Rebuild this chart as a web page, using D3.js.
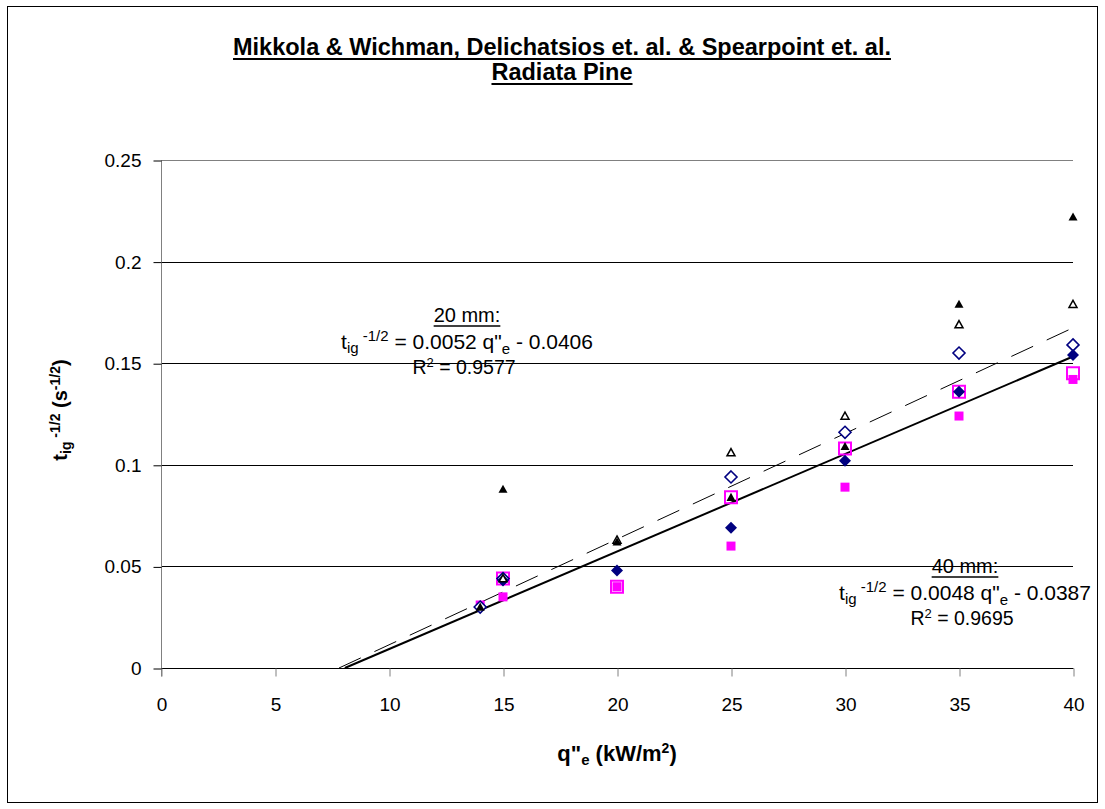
<!DOCTYPE html>
<html><head><meta charset="utf-8">
<script src="https://cdn.jsdelivr.net/npm/d3@7"></script>
<style>
body{margin:0;background:#fff;}
svg{display:block;font-family:"Liberation Sans",Arial,sans-serif;}
</style></head>
<body><svg id="c" width="1105" height="809"></svg>
<script>
// ---- data ----
const xCats = [14, 15, 20, 25, 30, 35, 40];
const filledTriangle = [0.030, 0.088, 0.062, 0.084, 0.109, 0.179, 0.222];
const openTriangle   = [null, 0.044, 0.063, 0.106, 0.124, 0.169, 0.179];
const openDiamond    = [0.030, 0.044, null, 0.094, 0.116, 0.155, 0.159];
const filledDiamond  = [null, 0.043, 0.048, 0.069, 0.102, 0.136, 0.154];
const openSquare     = [null, 0.044, 0.040, 0.084, 0.108, 0.136, 0.145];
const filledSquare   = [0.031, 0.035, 0.040, 0.060, 0.089, 0.124, 0.142];
const xTicks = [0, 5, 10, 15, 20, 25, 30, 35, 40];
const yTicks = [0, 0.05, 0.1, 0.15, 0.2, 0.25];
const yTickLabels = ["0", "0.05", "0.1", "0.15", "0.2", "0.25"];
const fitLabels = ["20 mm:", "40 mm:"];
const fitSlopes = [0.0052, 0.0048];
const fitIntercepts = [-0.0406, -0.0387];
const fitR2 = ["0.9577", "0.9695"];
const titleLines = ["Mikkola & Wichman, Delichatsios et. al. & Spearpoint et. al.", "Radiata Pine"];

// ---- layout ----
const svg = d3.select("#c");
const L = 161, R = 1073, T = 160, B = 668;
const x = d3.scaleLinear().domain([0, 40]).range([L, R]);
const y = d3.scaleLinear().domain([0, 0.25]).range([B, T]);
const FS = 19;

svg.append("rect").attr("x", 7.5).attr("y", 6.5).attr("width", 1090).attr("height", 796)
  .attr("fill", "#fff").attr("stroke", "#000").attr("stroke-width", 1);

// gridlines
svg.append("g").selectAll("line").data(yTicks.slice(1)).join("line")
  .attr("x1", L).attr("x2", R).attr("y1", d => Math.round(y(d)) + 0.5).attr("y2", d => Math.round(y(d)) + 0.5)
  .attr("stroke", (d, i) => i === yTicks.length - 2 ? "#808080" : "#000").attr("stroke-width", 1);

// y axis
const yAxis = d3.axisLeft(y).tickValues(yTicks).tickFormat((d, i) => yTickLabels[i]).tickSize(8).tickPadding(12);
const gy = svg.append("g").attr("transform", `translate(${L + 0.5},0.5)`).call(yAxis);
gy.select(".domain").attr("stroke", "#808080").attr("d", `M0,${T}V${B + 8}`);
gy.selectAll(".tick line").attr("stroke", "#000");
gy.selectAll(".tick text").attr("font-size", FS).attr("font-family", "Liberation Sans, Arial").attr("fill", "#000");

// x axis
const xAxis = d3.axisBottom(x).tickValues(xTicks).tickSize(8).tickPadding(21);
const gx = svg.append("g").attr("transform", `translate(0.5,${B + 0.5})`).call(xAxis);
gx.select(".domain").attr("stroke", "#000").attr("d", `M${L},0H${R}`);
gx.selectAll(".tick line").attr("stroke", "#808080");
gx.selectAll(".tick text").attr("font-size", FS).attr("font-family", "Liberation Sans, Arial").attr("fill", "#000");

// trend lines
const fitStyles = [{dash: "24,15", w: 1}, {dash: null, w: 2}];
fitSlopes.forEach((m, i) => {
  const b = fitIntercepts[i];
  const x0 = -b / m;
  svg.append("line")
    .attr("x1", x(x0)).attr("y1", y(0)).attr("x2", x(40)).attr("y2", y(m * 40 + b))
    .attr("stroke", "#000").attr("stroke-width", fitStyles[i].w)
    .attr("stroke-dasharray", fitStyles[i].dash);
});

// markers
const series = [
  {v: filledSquare, type: "square", size: 9, fill: "#FF00FF", stroke: "none", sw: 0},
  {v: openSquare, type: "square", size: 12, fill: "none", stroke: "#FF00FF", sw: 2},
  {v: openDiamond, type: "diamond", size: 12, fill: "#fff", stroke: "#000080", sw: 1.6},
  {v: filledDiamond, type: "diamond", size: 12, fill: "#000080", stroke: "none", sw: 0},
  {v: openTriangle, type: "triangle", size: 8, fill: "#fff", stroke: "#000", sw: 1.5},
  {v: filledTriangle, type: "triangle", size: 9, fill: "#000", stroke: "none", sw: 0},
];
function shape(type, s) {
  const h = s / 2;
  if (type === "square") return `M${-h},${-h}H${h}V${h}H${-h}Z`;
  if (type === "diamond") return `M0,${-h}L${h},0L0,${h}L${-h},0Z`;
  return `M0,${-h}L${h},${h * 0.8}L${-h},${h * 0.8}Z`;
}
series.forEach(s => {
  const pts = xCats.map((c, i) => ({c, v: s.v[i]})).filter(d => d.v != null);
  svg.append("g").selectAll("path").data(pts).join("path")
    .attr("transform", d => `translate(${x(d.c)},${y(d.v)})`)
    .attr("d", shape(s.type, s.size))
    .attr("fill", s.fill).attr("stroke", s.stroke).attr("stroke-width", s.sw);
});

// helper for underlined text
function underline(t, dy, w) {
  const bb = t.node().getBBox();
  svg.append("line").attr("x1", bb.x).attr("x2", bb.x + bb.width)
    .attr("y1", +t.attr("y") + dy).attr("y2", +t.attr("y") + dy)
    .attr("stroke", "#000").attr("stroke-width", w);
}

// title
const titleY = [55, 80];
titleLines.forEach((tl, i) => {
  const t = svg.append("text").attr("x", 562).attr("y", titleY[i]).attr("text-anchor", "middle")
    .attr("font-size", 23.5).attr("font-weight", "bold").text(tl);
  underline(t, 4, 2);
});

// fit annotations
const annX = [467, 965];
const annY = [322, 573];
fitLabels.forEach((lab, i) => {
  const cx = annX[i], y0 = annY[i];
  const t1 = svg.append("text").attr("x", cx).attr("y", y0).attr("text-anchor", "middle").attr("font-size", 20).text(lab);
  underline(t1, 4, 1.6);
  const t2 = svg.append("text").attr("x", cx).attr("y", y0 + 27).attr("text-anchor", "middle").attr("font-size", 21);
  t2.append("tspan").text("t");
  t2.append("tspan").attr("font-size", 15).attr("dy", 4).text("ig");
  t2.append("tspan").attr("font-size", 15).attr("dy", -12).text(" -1/2");
  t2.append("tspan").attr("dy", 8).text(` = ${fitSlopes[i]} q"`);
  t2.append("tspan").attr("font-size", 15).attr("dy", 5).text("e");
  t2.append("tspan").attr("dy", -5).text(` - ${Math.abs(fitIntercepts[i])}`);
  const t3 = svg.append("text").attr("x", cx - 3).attr("y", y0 + 52).attr("text-anchor", "middle").attr("font-size", 19.5);
  t3.append("tspan").text("R");
  t3.append("tspan").attr("font-size", 13).attr("dy", -7).text("2");
  t3.append("tspan").attr("dy", 7).text(` = ${fitR2[i]}`);
});

// axis titles
const xl = svg.append("text").attr("x", 617).attr("y", 761).attr("text-anchor", "middle")
  .attr("font-size", 22).attr("font-weight", "bold");
xl.append("tspan").text('q"');
xl.append("tspan").attr("font-size", 15).attr("dy", 4).text("e");
xl.append("tspan").attr("dy", -4).text(" (kW/m");
xl.append("tspan").attr("font-size", 14).attr("dy", -8).text("2");
xl.append("tspan").attr("dy", 8).text(")");

const yl = svg.append("text").attr("transform", "translate(67,410) rotate(-90)").attr("text-anchor", "middle")
  .attr("font-size", 20).attr("font-weight", "bold");
yl.append("tspan").text("t");
yl.append("tspan").attr("font-size", 14).attr("dy", 4).text("ig");
yl.append("tspan").attr("font-size", 14).attr("dy", -11).text(" -1/2");
yl.append("tspan").attr("dy", 7).text(" (s");
yl.append("tspan").attr("font-size", 14).attr("dy", -7).text("-1/2");
yl.append("tspan").attr("dy", 7).text(")");
</script></body></html>
